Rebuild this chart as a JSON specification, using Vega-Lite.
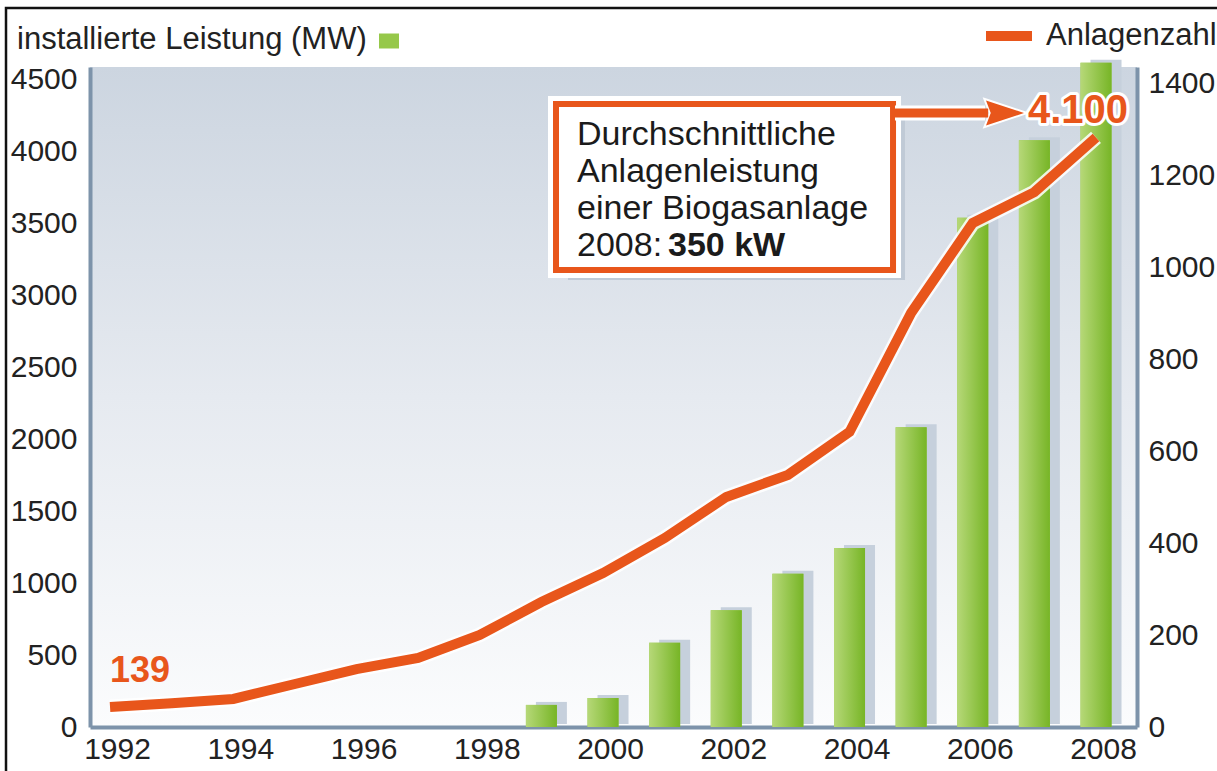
{
  "$schema": "https://vega.github.io/schema/vega-lite/v6.json",
  "width": 1047,
  "height": 660,
  "autosize": {"type": "none"},
  "padding": {"left": 90, "top": 67, "right": 80, "bottom": 44},
  "background": "white",
  "config": {
    "view": {"stroke": null, "fill": {"gradient": "linear", "x1": 0, "y1": 0, "x2": 0, "y2": 1, "stops": [{"offset": 0, "color": "#ccd5e0"}, {"offset": 0.5, "color": "#e6eaf0"}, {"offset": 1, "color": "#fbfcfd"}]}},
    "font": "Liberation Sans",
    "axis": {"labelFont": "Liberation Sans", "labelFontSize": 30, "labelColor": "#222222", "domainColor": "#7d93aa", "domainWidth": 4, "ticks": false, "grid": false, "title": null}
  },
  "datasets": {
    "anlagen": [
      {"jahr": 1992, "anzahl": 139}, {"jahr": 1993, "anzahl": 165}, {"jahr": 1994, "anzahl": 195},
      {"jahr": 1995, "anzahl": 299}, {"jahr": 1996, "anzahl": 403}, {"jahr": 1997, "anzahl": 480},
      {"jahr": 1998, "anzahl": 640}, {"jahr": 1999, "anzahl": 869}, {"jahr": 2000, "anzahl": 1071},
      {"jahr": 2001, "anzahl": 1314}, {"jahr": 2002, "anzahl": 1600}, {"jahr": 2003, "anzahl": 1753},
      {"jahr": 2004, "anzahl": 2052}, {"jahr": 2005, "anzahl": 2880}, {"jahr": 2006, "anzahl": 3505},
      {"jahr": 2007, "anzahl": 3720}, {"jahr": 2008, "anzahl": 4100}
    ],
    "leistung": [
      {"jahr": 1999, "mw": 48}, {"jahr": 2000, "mw": 63}, {"jahr": 2001, "mw": 183},
      {"jahr": 2002, "mw": 254}, {"jahr": 2003, "mw": 333}, {"jahr": 2004, "mw": 389},
      {"jahr": 2005, "mw": 652}, {"jahr": 2006, "mw": 1107}, {"jahr": 2007, "mw": 1276},
      {"jahr": 2008, "mw": 1444}
    ]
  },
  "encoding": {
    "x": {"field": "jahr", "type": "quantitative", "scale": {"domain": [1991.675, 2008.665], "nice": false, "zero": false, "padding": 0},
      "axis": {"values": [1992, 1994, 1996, 1998, 2000, 2002, 2004, 2006, 2008], "format": "d", "labelOffset": 7, "labelPadding": 7, "labelBaseline": "top"}}
  },
  "layer": [
    {
      "data": {"name": "leistung"},
      "encoding": {"y": {"field": "mw", "type": "quantitative", "scale": {"domain": [0, 1435], "nice": false},
        "axis": {"orient": "right", "values": [0, 200, 400, 600, 800, 1000, 1200, 1400], "format": "d", "labelPadding": 11}}},
      "layer": [
        {"mark": {"type": "bar", "width": 31, "xOffset": 10, "yOffset": -3, "color": "#c6d0dc"}},
        {"mark": {"type": "bar", "width": 31},
          "encoding": {"fill": {"datum": "installierte Leistung (MW)", "type": "nominal", "scale": {"range": ["#96c84a"]},
            "legend": {"orient": "none", "legendX": -73, "legendY": -36, "title": "installierte Leistung (MW)", "titleOrient": "left", "titleAngle": 0, "titleLimit": 0,
              "titleFont": "Liberation Sans", "titleFontSize": 31, "titleFontWeight": "normal", "titleColor": "#222222", "titlePadding": 12, "titleBaseline": "middle",
              "symbolType": "M-1,-0.75L1,-0.75L1,0.75L-1,0.75Z", "symbolSize": 400, "symbolStrokeWidth": 0, "labelExpr": "''", "labelOffset": 0, "padding": 0,
              "encode": {"symbols": {"update": {"fill": {"value": {"gradient": "linear", "x1": 0, "y1": 0, "x2": 1, "y2": 0, "stops": [{"offset": 0, "color": "#b9db7c"}, {"offset": 1, "color": "#76b424"}]}}}}}}}}},
        {"mark": {"type": "bar", "width": 31, "color": {"gradient": "linear", "x1": 0, "y1": 0, "x2": 1, "y2": 0, "stops": [{"offset": 0, "color": "#b6d878"}, {"offset": 1, "color": "#77b526"}]}}}
      ]
    },
    {
      "data": {"name": "anlagen"},
      "encoding": {"y": {"field": "anzahl", "type": "quantitative", "scale": {"domain": [0, 4590], "nice": false},
        "axis": {"orient": "left", "values": [0, 500, 1000, 1500, 2000, 2500, 3000, 3500, 4000, 4500], "format": "d", "labelPadding": 13}}},
      "layer": [
        {"mark": {"type": "line", "color": "white", "strokeWidth": 15, "strokeJoin": "miter", "opacity": 0.85}},
        {"mark": {"type": "line", "strokeWidth": 10, "strokeJoin": "miter"},
          "encoding": {"stroke": {"datum": "Anlagenzahl", "type": "nominal", "scale": {"range": ["#e8561b"]},
            "legend": {"orient": "none", "legendX": 891, "legendY": -59, "title": null, "symbolType": "stroke", "symbolStrokeWidth": 10, "symbolSize": 2116,
              "labelFont": "Liberation Sans", "labelFontSize": 31, "labelColor": "#222222", "labelOffset": 9, "labelLimit": 0, "padding": 0}}}},
        {"transform": [{"filter": {"field": "jahr", "equal": 2008}}], "mark": {"type": "rect", "fill": "#c0cad6", "xOffset": 12, "x2Offset": 12, "yOffset": 10, "y2Offset": 10},
          "encoding": {"x": {"datum": 1999.237, "type": "quantitative"}, "x2": {"datum": 2004.706}, "y": {"datum": 4332.7, "type": "quantitative"}, "y2": {"datum": 3178.2}}},
        {"transform": [{"filter": {"field": "jahr", "equal": 2008}}], "mark": {"type": "rect", "fill": "white", "stroke": "white", "strokeWidth": 16},
          "encoding": {"x": {"datum": 1999.237, "type": "quantitative"}, "x2": {"datum": 2004.706}, "y": {"datum": 4332.7, "type": "quantitative"}, "y2": {"datum": 3178.2}}},
        {"transform": [{"filter": {"field": "jahr", "equal": 2008}}], "mark": {"type": "rect", "fill": "white", "stroke": "#e8561b", "strokeWidth": 6},
          "encoding": {"x": {"datum": 1999.237, "type": "quantitative"}, "x2": {"datum": 2004.706}, "y": {"datum": 4332.7, "type": "quantitative"}, "y2": {"datum": 3178.2}}},
        {"transform": [{"filter": {"field": "jahr", "equal": 2008}}], "mark": {"type": "text", "align": "left", "baseline": "alphabetic", "font": "Liberation Sans", "fontSize": 34, "lineHeight": 37, "color": "#1b1b1b",
          "text": ["Durchschnittliche", "Anlagenleistung", "einer Biogasanlage", "2008:"]},
          "encoding": {"x": {"datum": 1999.578, "type": "quantitative"}, "y": {"datum": 4047.5, "type": "quantitative"}}},
        {"transform": [{"filter": {"field": "jahr", "equal": 2008}}], "mark": {"type": "text", "align": "left", "baseline": "alphabetic", "font": "Liberation Sans", "fontSize": 34, "fontWeight": "bold", "color": "#1b1b1b", "dx": 91, "text": "350 kW"},
          "encoding": {"x": {"datum": 1999.578, "type": "quantitative"}, "y": {"datum": 3276, "type": "quantitative"}}},
        {"transform": [{"filter": {"field": "jahr", "equal": 2008}}], "mark": {"type": "rule", "color": "white", "strokeWidth": 15},
          "encoding": {"x": {"datum": 2004.738, "type": "quantitative"}, "x2": {"datum": 2006.2}, "y": {"datum": 4270, "type": "quantitative"}}},
        {"transform": [{"filter": {"field": "jahr", "equal": 2008}}], "mark": {"type": "point", "shape": "M-1,-0.66L1,0L-1,0.66L-0.75,0Z", "size": 1444, "filled": true, "color": "#e8561b", "opacity": 1, "stroke": "white", "strokeWidth": 4},
          "encoding": {"x": {"datum": 2006.523, "type": "quantitative"}, "y": {"datum": 4270, "type": "quantitative"}}},
        {"transform": [{"filter": {"field": "jahr", "equal": 2008}}], "mark": {"type": "rule", "color": "#e8561b", "strokeWidth": 9},
          "encoding": {"x": {"datum": 2004.738, "type": "quantitative"}, "x2": {"datum": 2006.25}, "y": {"datum": 4270, "type": "quantitative"}}},
        {"transform": [{"filter": {"field": "jahr", "equal": 2008}}], "mark": {"type": "point", "shape": "M-1,-0.66L1,0L-1,0.66L-0.75,0Z", "size": 1444, "filled": true, "color": "#e8561b", "opacity": 1, "strokeWidth": 0},
          "encoding": {"x": {"datum": 2006.523, "type": "quantitative"}, "y": {"datum": 4270, "type": "quantitative"}}},
        {"transform": [{"filter": {"field": "jahr", "equal": 1992}}], "mark": {"type": "text", "align": "left", "baseline": "alphabetic", "font": "Liberation Sans", "fontSize": 36, "fontWeight": "bold", "color": "#e8561b", "dy": -25, "text": "139"},
          "encoding": {"y": {"field": "anzahl", "type": "quantitative"}}},
        {"transform": [{"filter": {"field": "jahr", "equal": 2008}}], "mark": {"type": "text", "align": "right", "baseline": "alphabetic", "font": "Liberation Sans", "fontSize": 40, "fontWeight": "bold", "stroke": "white", "strokeWidth": 6, "strokeJoin": "round", "fill": "white", "dx": 32, "dy": -14, "text": "4.100"},
          "encoding": {"y": {"field": "anzahl", "type": "quantitative"}}},
        {"transform": [{"filter": {"field": "jahr", "equal": 2008}}], "mark": {"type": "text", "align": "right", "baseline": "alphabetic", "font": "Liberation Sans", "fontSize": 40, "fontWeight": "bold", "color": "#e8561b", "dx": 32, "dy": -14, "text": "4.100"},
          "encoding": {"y": {"field": "anzahl", "type": "quantitative"}}},
        {"transform": [{"filter": {"field": "jahr", "equal": 2008}}], "mark": {"type": "rect", "fillOpacity": 0, "stroke": "#111111", "strokeWidth": 2.5},
          "encoding": {"x": {"datum": 1990.312, "type": "quantitative"}, "x2": {"datum": 2010.5}, "y": {"datum": 5000, "type": "quantitative"}, "y2": {"datum": -1000}}}
      ]
    }
  ],
  "resolve": {"scale": {"y": "independent"}}
}
